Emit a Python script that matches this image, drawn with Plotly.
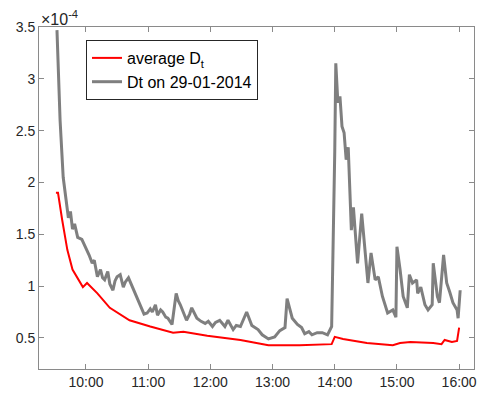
import plotly.graph_objects as go

DAY = "2014-01-29 "

# Dt on 29-01-2014 (units of 1e-4)
dt_day_times = ["09:32", "09:33", "09:34", "09:35", "09:38", "09:41", "09:43", "09:45",
                "09:47", "09:49", "09:52", "09:56", "10:01", "10:03", "10:06", "10:08",
                "10:11", "10:14", "10:16", "10:18", "10:21", "10:23", "10:26", "10:28",
                "10:30", "10:33", "10:36", "10:38", "10:41", "10:45", "10:49", "10:54",
                "10:56", "10:59", "11:02", "11:04", "11:07", "11:09", "11:12", "11:14",
                "11:17", "11:19", "11:23", "11:27", "11:29", "11:31", "11:34", "11:37",
                "11:40", "11:42", "11:47", "11:51", "11:55", "11:58", "12:02", "12:05",
                "12:09", "12:14", "12:17", "12:22", "12:25", "12:29", "12:35", "12:37",
                "12:40", "12:46", "12:50", "12:56", "13:02", "13:07", "13:12", "13:14",
                "13:19", "13:24", "13:28", "13:31", "13:35", "13:38", "13:43", "13:48",
                "13:53", "13:57", "13:59", "14:00", "14:01", "14:03", "14:05", "14:07",
                "14:09", "14:11", "14:13", "14:15", "14:16", "14:18", "14:20", "14:22",
                "14:26", "14:29", "14:32", "14:35", "14:39", "14:42", "14:46", "14:51",
                "14:56", "14:59", "15:00", "15:03", "15:06", "15:10", "15:12", "15:15",
                "15:19", "15:20", "15:23", "15:27", "15:30", "15:34", "15:35", "15:39",
                "15:41", "15:45", "15:48", "15:51", "15:54", "15:58", "15:59", "16:01"]
dt_day_vals = [3.47, 3.10, 2.78, 2.60, 2.05, 1.83, 1.66, 1.72,
               1.55, 1.60, 1.47, 1.45, 1.35, 1.30, 1.22, 1.25,
               1.09, 1.16, 1.08, 1.06, 1.14, 1.02, 0.96, 1.05,
               1.09, 1.11, 0.99, 1.04, 1.08, 0.99, 0.90, 0.77,
               0.73, 0.74, 0.78, 0.75, 0.82, 0.72, 0.77, 0.75,
               0.70, 0.69, 0.63, 0.93, 0.86, 0.82, 0.75, 0.67,
               0.73, 0.79, 0.69, 0.66, 0.64, 0.66, 0.61, 0.65,
               0.67, 0.61, 0.67, 0.58, 0.62, 0.61, 0.75, 0.70,
               0.62, 0.58, 0.53, 0.49, 0.51, 0.57, 0.60, 0.88,
               0.69, 0.63, 0.60, 0.54, 0.56, 0.53, 0.55, 0.55,
               0.53, 0.61, 1.60, 2.30, 3.15, 2.77, 2.83, 2.54,
               2.48, 2.22, 2.34, 1.76, 1.54, 1.76, 1.47, 1.22,
               1.70, 1.32, 1.03, 1.32, 1.06, 1.09, 0.90, 0.74,
               0.77, 0.70, 1.38, 1.16, 0.90, 0.79, 1.11, 1.03,
               1.06, 0.93, 0.99, 0.82, 0.77, 0.82, 1.22, 0.90,
               0.84, 1.30, 1.03, 0.94, 0.84, 0.77, 0.69, 0.96]

# average Dt (units of 1e-4)
avg_times = ["09:31", "09:33", "09:37", "09:42", "09:47", "09:57", "10:01", "10:11",
             "10:23", "10:42", "11:02", "11:24", "11:34", "11:57", "12:29", "12:56",
             "13:26", "13:57", "14:00", "14:08", "14:31", "14:56", "15:03", "15:13",
             "15:35", "15:43", "15:46", "15:53", "15:58", "16:00"]
avg_vals = [1.90, 1.90, 1.64, 1.35, 1.16, 0.99, 1.03, 0.93,
            0.79, 0.67, 0.61, 0.55, 0.56, 0.52, 0.48, 0.43,
            0.43, 0.44, 0.51, 0.49, 0.45, 0.43, 0.45, 0.46,
            0.45, 0.44, 0.48, 0.46, 0.47, 0.60]

y_ticks = [0.5, 1, 1.5, 2, 2.5, 3, 3.5]
y_tick_text = ["0.5", "1", "1.5", "2", "2.5", "3", "3.5"]
x_tick_hours = ["10:00", "11:00", "12:00", "13:00", "14:00", "15:00", "16:00"]

FONT = "Liberation Sans, Arial, sans-serif"
AXIS_COLOR = "#8a8a8a"
TEXT_COLOR = "#262626"

fig = go.Figure()
fig.add_trace(go.Scatter(
    x=[DAY + t for t in avg_times], y=avg_vals, mode="lines",
    name="average D<sub>t</sub>", line=dict(color="#ff0000", width=2),
))
fig.add_trace(go.Scatter(
    x=[DAY + t for t in dt_day_times], y=dt_day_vals, mode="lines",
    name="Dt on 29-01-2014", line=dict(color="#7f7f7f", width=3),
))

axis_common = dict(
    showline=True, linecolor=AXIS_COLOR, linewidth=1, mirror="ticks",
    ticks="inside", ticklen=5, tickcolor=AXIS_COLOR, showgrid=False, zeroline=False,
    tickfont=dict(family=FONT, size=14, color=TEXT_COLOR), automargin=False,
)

fig.update_layout(
    width=480, height=403,
    margin=dict(l=39, r=6, t=27, b=34, autoexpand=False),
    paper_bgcolor="white", plot_bgcolor="white",
    font=dict(family=FONT, size=14, color=TEXT_COLOR),
    showlegend=True,
    legend=dict(
        x=0.108, y=0.962, xanchor="left", yanchor="top",
        bgcolor="white", bordercolor="#262626", borderwidth=1,
        font=dict(family=FONT, size=16, color="#000000"),
        tracegroupgap=0,
    ),
    xaxis=dict(
        type="date", range=[DAY + "09:14:40", DAY + "16:14:20"],
        tickvals=[DAY + h for h in x_tick_hours], ticktext=x_tick_hours,
        **axis_common,
    ),
    yaxis=dict(
        range=[0.2, 3.5], tickvals=y_ticks, ticktext=y_tick_text,
        **axis_common,
    ),
    annotations=[dict(
        text="×10<sup>-4</sup>", xref="paper", yref="paper", x=0.0, y=1.0,
        xanchor="left", yanchor="bottom", showarrow=False, xshift=0, yshift=-3,
        font=dict(family=FONT, size=16, color=TEXT_COLOR),
    )],
)

fig.write_html("out.html")
